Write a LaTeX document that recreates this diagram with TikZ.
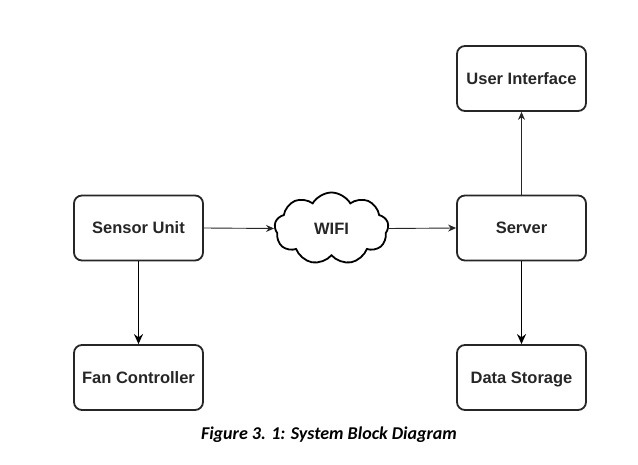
\documentclass[tikz,border=0pt]{standalone}
\usepackage{fontspec}
\setmainfont{Liberation Sans}
\newfontfamily\capfont{Carlito}
\usetikzlibrary{shapes.symbols,arrows.meta}
\begin{document}
\begin{tikzpicture}[x=1pt,y=-1pt,
  blockbox/.style={draw=black!85,line width=1.8pt,rounded corners=8pt,minimum width=129pt,minimum height=65pt,inner sep=0pt,text height=11.8pt,text depth=0pt,font=\fontsize{16.5}{19}\selectfont\bfseries,text=black!85},
  thinarrow/.style={draw=black!85,line width=0.9pt,-{Stealth[length=8pt,width=7pt]}},
  thickarrow/.style={draw=black,line width=1.9pt,-{Stealth[length=10pt,width=9pt]}}]
\useasboundingbox (0,0) rectangle (638,465);
\node[blockbox] (sensor) at (138.5,228) {Sensor Unit};
\node[blockbox] (fan) at (138.5,377.5) {Fan Controller};
\node[blockbox] (ui) at (521.5,78.5) {User Interface};
\node[blockbox] (server) at (521.5,228) {Server};
\node[blockbox] (data) at (521.5,377.5) {Data Storage};
\node[cloud,cloud puffs=9,cloud puff arc=120,aspect=1.6,draw=black,line width=1.8pt,minimum width=114pt,minimum height=72pt,inner sep=0pt,text height=11.8pt,text depth=0pt,font=\fontsize{16.5}{19}\selectfont\bfseries,text=black!85] (wifi) at (331.5,228.5) {WIFI};
\node[font=\capfont\fontsize{18}{21}\selectfont\bfseries\itshape] (cap) at (329,434.5) {Figure 3. 1: System Block Diagram};
\draw[thinarrow] (sensor.east) -- (wifi.west);
\draw[thinarrow] (wifi.east) -- (server.west);
\draw[thinarrow] (server.north) -- (ui.south);
\draw[thickarrow] (sensor.south) -- (fan.north);
\draw[thickarrow] (server.south) -- (data.north);
\end{tikzpicture}
\end{document}
